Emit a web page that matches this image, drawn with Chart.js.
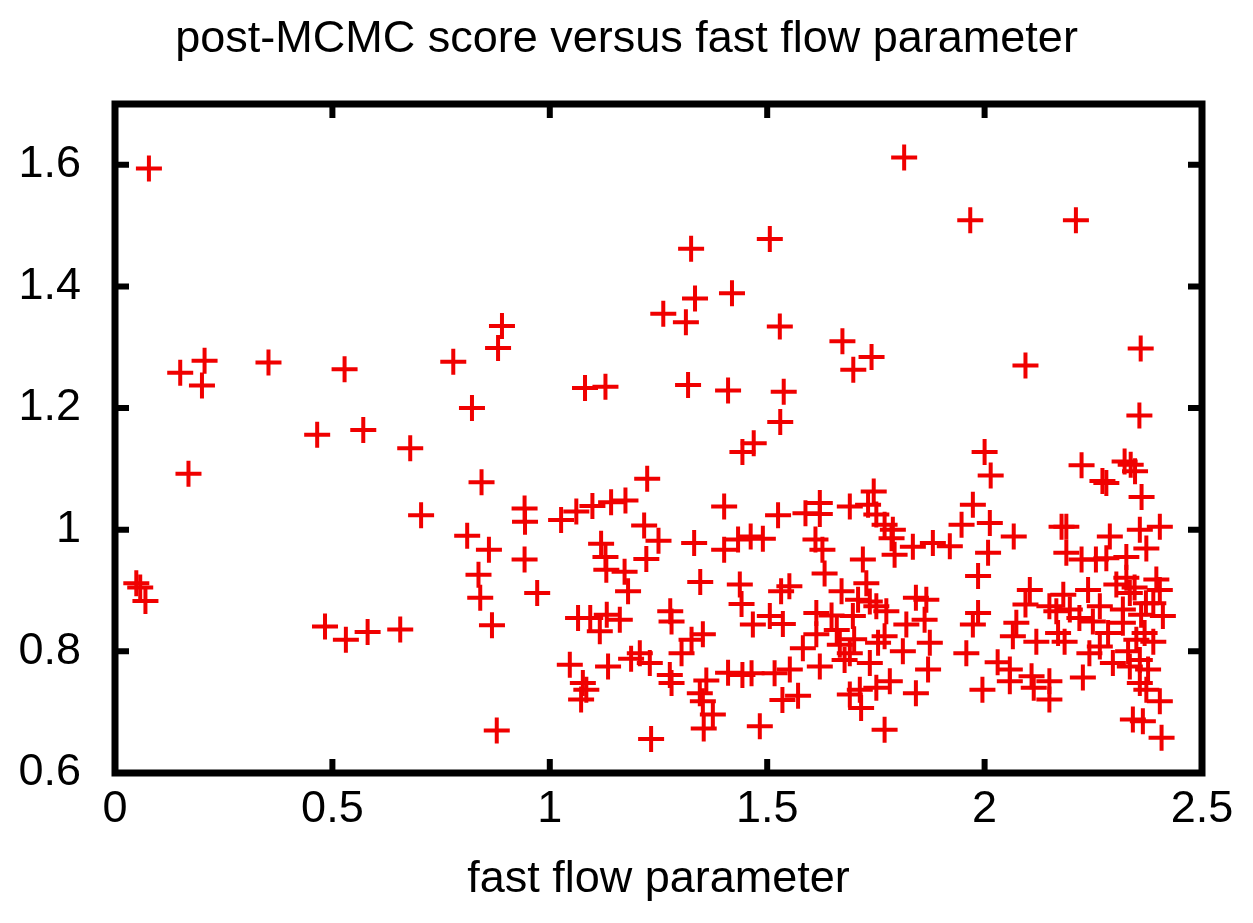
<!DOCTYPE html>
<html>
<head>
<meta charset="utf-8">
<script src="https://cdn.jsdelivr.net/npm/chart.js@4/dist/chart.umd.min.js"></script>
<style>
  html, body { margin: 0; padding: 0; background: #fff; }
  canvas { display: block; }
</style>
</head>
<body>
<canvas id="scoreChart" width="1253" height="923"></canvas>
<script>
// fast flow parameter (x) and post-MCMC score (y)
const fastFlow = [
    0.078, 0.150, 0.206, 0.200, 0.353, 0.528, 0.778, 0.890, 0.881, 0.821,
    0.465, 0.571, 0.679, 0.169, 0.843, 0.704, 0.942, 0.943, 1.026, 0.810,
    0.860, 0.942, 0.836, 0.840, 0.971, 0.867, 0.049, 0.058, 0.070, 0.483,
    0.531, 0.581, 0.656, 0.878,
    1.815, 1.967, 2.210, 1.325, 1.506, 1.334, 1.419, 1.261, 1.313, 1.529,
    1.673, 1.740, 1.698, 2.094, 2.359, 1.081, 1.128, 1.318, 1.410, 1.538,
    1.530, 2.356, 1.469, 1.443, 2.000, 2.014, 1.224, 2.223, 2.322, 2.336,
    2.346, 2.271,
    1.061, 1.098, 1.141, 1.174, 1.401, 1.525, 1.217, 1.250, 1.332, 1.401,
    1.433, 1.462, 1.490, 1.118, 1.128, 1.130, 1.172, 1.222, 1.180, 1.346,
    1.437, 1.441, 1.065, 1.093, 1.131, 1.161, 1.277, 1.280, 1.506, 1.467,
    1.115, 1.352, 1.326, 1.303, 1.046, 1.134, 1.076, 1.084, 1.072, 1.187,
    1.207, 1.230, 1.276, 1.280, 1.360, 1.345, 1.352, 1.375, 1.354, 1.233,
    1.410, 1.443, 1.464, 1.483,
    1.745, 1.588, 1.621, 1.621, 1.690, 1.732, 1.751, 1.770, 1.789, 1.786,
    1.793, 1.835, 1.881, 1.920, 1.973, 1.947, 2.012, 2.008, 1.985, 1.985,
    1.611, 1.627, 1.720, 1.632, 1.551, 1.532, 1.671, 1.728, 1.709, 1.736,
    1.751, 1.842, 1.866, 1.862, 1.613, 1.648, 1.697, 1.774, 1.536, 1.820,
    1.613, 1.582, 1.667, 1.690, 1.678, 1.770, 1.755, 1.874, 1.812, 1.973,
    1.958, 2.030, 1.517, 1.552, 1.621, 1.736, 1.782, 1.751, 1.870, 1.842,
    1.690, 1.713, 1.716, 1.535, 1.571, 1.770, 1.995, 1.700, 1.660,
    2.280, 2.361, 2.067, 2.177, 2.188, 2.288, 2.357, 2.403, 2.372, 2.188,
    2.223, 2.256, 2.280, 2.326, 2.104, 2.181, 2.238, 2.303, 2.326, 2.334,
    2.395, 2.403, 2.388, 2.094, 2.149, 2.196, 2.165, 2.265, 2.318, 2.371,
    2.073, 2.249, 2.218, 2.318, 2.410,
    2.065, 2.119, 2.169, 2.184, 2.241, 2.265, 2.284, 2.295, 2.349, 2.368,
    2.388, 2.334, 2.357, 2.376, 2.357, 2.372, 2.403, 2.341, 2.364, 2.407,
    2.226, 2.058, 2.058, 2.108, 2.113, 2.149, 2.149, 2.345, 2.360, 2.330
];
const score = [
    1.594, 1.258, 1.278, 1.237, 1.275, 1.264, 1.276, 1.335, 1.299, 1.200,
    1.156, 1.164, 1.134, 1.092, 1.078, 1.024, 1.035, 1.013, 1.016, 0.990,
    0.967, 0.951, 0.926, 0.888, 0.896, 0.843, 0.912, 0.905, 0.883, 0.841,
    0.819, 0.832, 0.836, 0.670,
    1.612, 1.509, 1.509, 1.462, 1.478, 1.380, 1.389, 1.355, 1.341, 1.334,
    1.310, 1.284, 1.263, 1.270, 1.298, 1.233, 1.235, 1.238, 1.229, 1.227,
    1.177, 1.188, 1.142, 1.128, 1.128, 1.089, 1.084, 1.106, 1.112, 1.107,
    1.096, 1.080,
    1.030, 1.039, 1.045, 1.048, 1.038, 1.024, 1.007, 0.982, 0.978, 0.967,
    0.984, 0.989, 0.985, 0.977, 0.955, 0.934, 0.931, 0.952, 0.899, 0.914,
    0.910, 0.878, 0.855, 0.855, 0.860, 0.852, 0.866, 0.849, 0.858, 0.844,
    0.833, 0.828, 0.819, 0.797, 0.778, 0.775, 0.748, 0.737, 0.721, 0.788,
    0.797, 0.781, 0.761, 0.748, 0.752, 0.731, 0.718, 0.696, 0.673, 0.656,
    0.765, 0.761, 0.764, 0.677,
    1.063, 1.027, 1.044, 1.026, 1.038, 1.041, 1.025, 1.008, 1.000, 0.986,
    0.959, 0.972, 0.978, 0.973, 1.041, 1.008, 1.011, 0.962, 0.924, 0.863,
    0.984, 0.967, 0.951, 0.928, 0.907, 0.899, 0.899, 0.912, 0.885, 0.882,
    0.874, 0.888, 0.885, 0.852, 0.863, 0.859, 0.858, 0.866, 0.845, 0.844,
    0.828, 0.805, 0.811, 0.797, 0.786, 0.825, 0.814, 0.814, 0.800, 0.844,
    0.797, 0.782, 0.764, 0.770, 0.775, 0.781, 0.751, 0.740, 0.770, 0.731,
    0.729, 0.737, 0.707, 0.720, 0.727, 0.671, 0.737, 0.820, 0.835,
    1.077, 1.054, 0.989, 1.005, 1.005, 0.989, 1.000, 1.005, 0.969, 0.962,
    0.951, 0.951, 0.953, 0.955, 0.901, 0.893, 0.901, 0.910, 0.921, 0.896,
    0.918, 0.901, 0.879, 0.877, 0.874, 0.869, 0.866, 0.874, 0.869, 0.879,
    0.847, 0.849, 0.855, 0.847, 0.858,
    0.825, 0.816, 0.830, 0.816, 0.797, 0.808, 0.830, 0.781, 0.819, 0.830,
    0.816, 0.775, 0.786, 0.770, 0.748, 0.737, 0.718, 0.688, 0.685, 0.658,
    0.757, 0.770, 0.751, 0.759, 0.740, 0.751, 0.721, 0.905, 0.860, 0.800
];
const xTicks = [0, 0.5, 1, 1.5, 2, 2.5];
const yTicks = [0.6, 0.8, 1, 1.2, 1.4, 1.6];

const points = fastFlow.map((v, i) => ({ x: v, y: score[i] }));
const labelFont = { family: '"Liberation Sans", Arial, sans-serif', size: 45 };

// gnuplot style box with inward ticks on all four sides
const framePlugin = {
    id: 'frame',
    afterDraw(chart) {
        const { ctx, chartArea: a, scales: { x, y } } = chart;
        const len = 14;
        ctx.save();
        ctx.strokeStyle = '#000';
        ctx.lineWidth = 6;
        ctx.beginPath();
        xTicks.forEach(v => {
            const px = x.getPixelForValue(v);
            ctx.moveTo(px, a.bottom); ctx.lineTo(px, a.bottom - len);
            ctx.moveTo(px, a.top); ctx.lineTo(px, a.top + len);
        });
        yTicks.forEach(v => {
            const py = y.getPixelForValue(v);
            ctx.moveTo(a.left, py); ctx.lineTo(a.left + len, py);
            ctx.moveTo(a.right, py); ctx.lineTo(a.right - len, py);
        });
        ctx.stroke();
        ctx.lineWidth = 7;
        ctx.strokeRect(a.left, a.top, a.right - a.left, a.bottom - a.top);
        ctx.restore();
    }
};

new Chart(document.getElementById('scoreChart'), {
    type: 'scatter',
    data: {
        datasets: [{
            data: points,
            pointStyle: 'cross',
            pointRadius: 13,
            pointBorderWidth: 4,
            pointBorderColor: '#f00000',
            pointBackgroundColor: '#f00000'
        }]
    },
    options: {
        responsive: false,
        animation: false,
        devicePixelRatio: 1,
        layout: { padding: 0 },
        plugins: {
            legend: { display: false },
            tooltip: { enabled: false },
            title: {
                display: true,
                text: 'post-MCMC score versus fast flow parameter',
                color: '#000',
                font: { ...labelFont, weight: 'normal' },
                padding: { top: 13, bottom: 37 }
            }
        },
        scales: {
            x: {
                type: 'linear',
                min: 0,
                max: 2.5,
                afterBuildTicks: s => { s.ticks = xTicks.map(v => ({ value: v })); },
                afterFit: s => { s.height = 150; },
                grid: { display: false, drawTicks: false },
                border: { display: false },
                ticks: {
                    color: '#000',
                    font: labelFont,
                    padding: 10,
                    maxRotation: 0,
                    callback: v => String(v)
                },
                title: {
                    display: true,
                    text: 'fast flow parameter',
                    color: '#000',
                    font: labelFont,
                    padding: { top: 0, bottom: 16 }
                }
            },
            y: {
                type: 'linear',
                min: 0.6,
                max: 1.7,
                afterBuildTicks: s => { s.ticks = yTicks.map(v => ({ value: v })); },
                afterFit: s => { s.width = 115; },
                grid: { display: false, drawTicks: false },
                border: { display: false },
                ticks: {
                    color: '#000',
                    font: labelFont,
                    padding: 34,
                    callback: v => String(v)
                }
            },
            // empty right-hand axis, only reserves the right margin
            yRight: {
                type: 'linear',
                position: 'right',
                min: 0.6,
                max: 1.7,
                afterFit: s => { s.width = 51; },
                grid: { display: false, drawTicks: false },
                border: { display: false },
                ticks: { display: false }
            }
        }
    },
    plugins: [framePlugin]
});
</script>
</body>
</html>
